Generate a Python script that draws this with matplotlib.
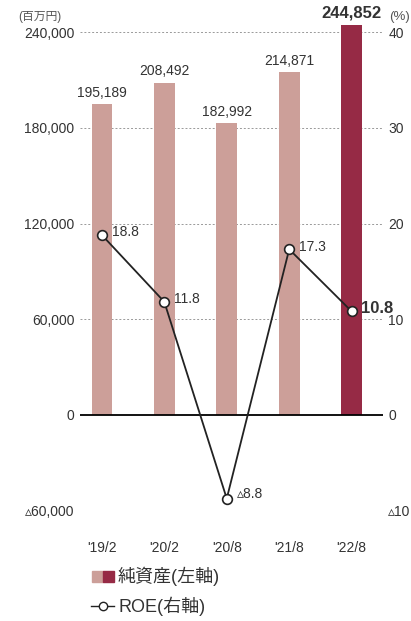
import numpy as np
import matplotlib
matplotlib.use("Agg")
import matplotlib.pyplot as plt
from matplotlib.patches import Rectangle
from matplotlib.lines import Line2D

plt.rcParams['font.family'] = ['Liberation Sans', 'DejaVu Sans', 'Noto Sans CJK JP']

# data
years = ["'19/2", "'20/2", "'20/8", "'21/8", "'22/8"]
net_assets = [195189, 208492, 182992, 214871, 244852]
roe = [18.8, 11.8, -8.8, 17.3, 10.8]
left_ticks = [-60000, 0, 60000, 120000, 180000, 240000]
right_ticks = [-10, 0, 10, 20, 30, 40]

light = '#cc9f99'
dark = '#962a45'
txt = '#333333'

def fmt(v, dec=False):
    s = f"{abs(v):.1f}" if dec else f"{abs(v):,}"
    return ("▵" + s) if v < 0 else s

fig = plt.figure(figsize=(4.11, 6.21), dpi=100)
ax = fig.add_axes([0.1946, 0.1787, 0.737, 0.7818])
ax2 = ax.twinx()

x = np.arange(len(years))
colors = [light] * (len(years) - 1) + [dark]
ax.bar(x, net_assets, width=0.33, color=colors, zorder=2)

ax.set_xlim(-0.35, 4.5)
ax.set_ylim(-60000, 245000)
ax2.set_ylim(-10, 245000 / 6000)

for v in left_ticks:
    if v == 0:
        ax.axhline(0, color='black', lw=1.3, zorder=3)
    else:
        ax.axhline(v, color='#999999', lw=0.7, ls=(0, (2, 2)), zorder=1)

ax.set_yticks(left_ticks)
ax.set_yticklabels([fmt(v) for v in left_ticks], fontsize=10, color=txt)
ax2.set_yticks(right_ticks)
ax2.set_yticklabels([fmt(v) for v in right_ticks], fontsize=10, color=txt)
ax.set_xticks(x)
ax.set_xticklabels(years, fontsize=10, color=txt)
ax.tick_params(axis='both', length=0)
ax2.tick_params(axis='y', length=0, pad=4)
ax.tick_params(axis='x', pad=22)
ax.tick_params(axis='y', pad=4)
for a in (ax, ax2):
    for s in a.spines.values():
        s.set_visible(False)

# bar labels
for i, v in enumerate(net_assets):
    last = i == len(net_assets) - 1
    ax.annotate(fmt(v), (x[i], v), xytext=(0, 3), textcoords='offset points',
                ha='center', va='bottom', fontsize=12 if last else 10,
                fontweight='bold' if last else 'normal', color=txt)

# ROE line
ax2.plot(x, roe, color='#222222', lw=1.3, marker='o', ms=7, mfc='white',
         mec='#222222', mew=1.2, zorder=4)
for i, v in enumerate(roe):
    last = i == len(roe) - 1
    ax2.annotate(fmt(v, True), (x[i], v), xytext=(7, 3 if v < 0 else 2),
                 textcoords='offset points', ha='left', va='center',
                 fontsize=12 if last else 10,
                 fontweight='bold' if last else 'normal', color=txt)

fig.text(18 / 411, 1 - 17 / 621, "(百万円)", fontsize=8.5, color='#555555',
         ha='left', va='center')
fig.text(389 / 411, 1 - 17 / 621, "(%)", fontsize=9.5, color='#555555',
         ha='left', va='center')

# legend
fig.add_artist(Rectangle((92 / 411, 1 - 582 / 621), 11 / 411, 11 / 621,
                         color=light, transform=fig.transFigure))
fig.add_artist(Rectangle((103 / 411, 1 - 582 / 621), 11 / 411, 11 / 621,
                         color=dark, transform=fig.transFigure))
fig.text(118 / 411, 1 - 576 / 621, "純資産(左軸)", fontsize=13, color=txt,
         ha='left', va='center')
fig.add_artist(Line2D([91 / 411, 114 / 411], [1 - 606 / 621] * 2, color='#222222',
                      lw=1, transform=fig.transFigure))
fig.add_artist(Line2D([102.5 / 411], [1 - 606 / 621], color='#222222', lw=0,
                      marker='o', ms=6, mfc='white', mec='#222222',
                      transform=fig.transFigure))
fig.text(118 / 411, 1 - 606 / 621, "ROE(右軸)", fontsize=13, color=txt,
         ha='left', va='center')

fig.savefig("out.png", dpi=100)
